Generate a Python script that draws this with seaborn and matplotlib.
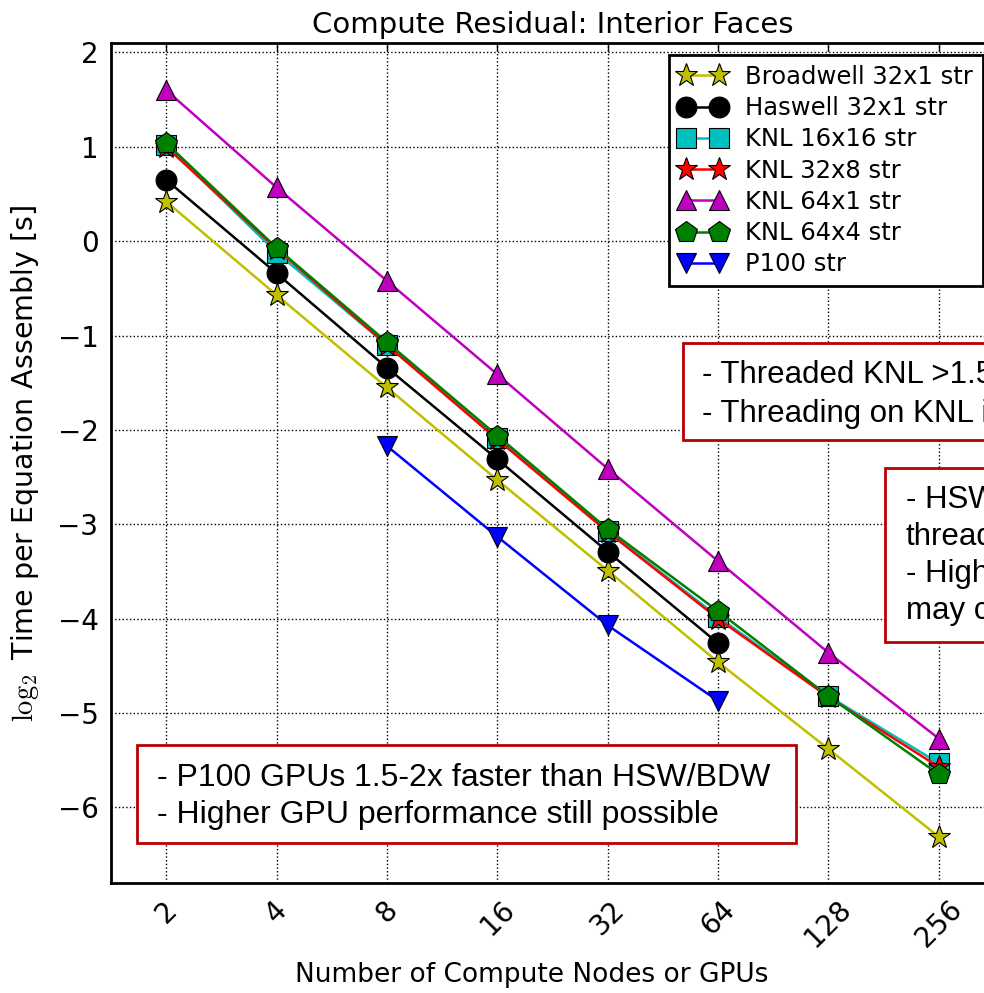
import matplotlib
matplotlib.use("Agg")
import matplotlib.pyplot as plt
import matplotlib.patches as mpatches
import seaborn as sns

# nodes / GPUs on the x axis
NODES = [2, 4, 8, 16, 32, 64, 128, 256]
GPU_NODES = [8, 16, 32, 64]
X_TICK_LABELS = ["2", "4", "8", "16", "32", "64", "128", "256"]

# log2 time per equation assembly [s]
BROADWELL_32X1 = [0.42, -0.57, -1.55, -2.53, -3.49, -4.46, -5.38, -6.31]
HASWELL_32X1 = [0.65, -0.34, -1.34, -2.31, -3.29, -4.26]
KNL_16X16 = [1.02, -0.12, -1.10, -2.09, -3.07, -3.98, -4.82, -5.53]
KNL_32X8 = [1.00, -0.08, -1.10, -2.10, -3.08, -4.00, -4.83, -5.57]
KNL_64X1 = [1.60, 0.57, -0.42, -1.41, -2.41, -3.39, -4.36, -5.27]
KNL_64X4 = [1.04, -0.07, -1.07, -2.06, -3.05, -3.92, -4.82, -5.65]
P100 = [-2.17, -3.13, -4.07, -4.87]

SERIES = [
    ("Broadwell 32x1 str", NODES, BROADWELL_32X1, (0.75, 0.75, 0), "*", 17),
    ("Haswell 32x1 str", NODES[:6], HASWELL_32X1, "k", "o", 15),
    ("KNL 16x16 str", NODES, KNL_16X16, (0, 0.75, 0.75), "s", 14),
    ("KNL 32x8 str", NODES, KNL_32X8, "r", "*", 17),
    ("KNL 64x1 str", NODES, KNL_64X1, (0.75, 0, 0.75), "^", 15),
    ("KNL 64x4 str", NODES, KNL_64X4, (0, 0.5, 0), "p", 16),
    ("P100 str", GPU_NODES, P100, "b", "v", 15),
]

NOTE_KNL = ["- Threaded KNL >1.5x faster than flat MPI", "- Threading on KNL is essential"]
NOTE_HSW = ["- HSW/BDW gain little from", "threading", "- Higher thread counts", "may cause contention"]
NOTE_GPU = ["- P100 GPUs 1.5-2x faster than HSW/BDW", "- Higher GPU performance still possible"]

W, H = 984, 993
sns.set_style("white")
plt.rcParams["font.family"] = ["DejaVu Sans"]
plt.rcParams["mathtext.fontset"] = "cm"
for key in ["text.color", "axes.labelcolor", "xtick.color", "ytick.color"]:
    plt.rcParams[key] = "black"

fig = plt.figure(figsize=(W / 100, H / 100), dpi=100)
fig.patch.set_facecolor("white")


def fx(px):
    return px / W


def fy(py):
    return 1 - py / H


ax = fig.add_axes([fx(111), fy(883), fx(994) - fx(111), fy(43) - fy(883)])

for name, xs, ys, color, marker, ms in SERIES:
    sns.lineplot(x=xs, y=ys, ax=ax, color=color, marker=marker, markersize=ms,
                 markeredgecolor="k", markeredgewidth=0.8, linewidth=1.8,
                 label=name, errorbar=None, sort=False)

ax.set_xscale("log", base=2)
ax.set_xlim(2 ** 0.5, 2 ** 8.5)
ax.set_ylim(-6.8, 2.1)
ax.set_xticks(NODES)
ax.set_xticklabels(X_TICK_LABELS, rotation=45, fontsize=20)
ax.minorticks_off()
ax.set_yticks(range(-6, 3))
ax.tick_params(axis="y", labelsize=20)
ax.tick_params(direction="in", length=6, width=1, top=True, right=True, pad=9,
               colors="black")
ax.grid(True, color="k", linestyle=":", linewidth=1)
for sp in ax.spines.values():
    sp.set_linewidth(2)
    sp.set_color("k")

ax.set_title("Compute Residual: Interior Faces", fontsize=21, pad=7, color="black")
ax.set_xlabel("Number of Compute Nodes or GPUs", fontsize=19, color="black")
ax.xaxis.set_label_coords(0.476, -0.094)
ax.set_ylabel(r"$\log_2$ Time per Equation Assembly [s]", fontsize=20.5, labelpad=12,
              color="black")

leg = ax.legend(loc="upper right", bbox_to_anchor=(fx(983), fy(55)),
                bbox_transform=fig.transFigure, borderaxespad=0, numpoints=2,
                fontsize=17.5, fancybox=False, framealpha=1, edgecolor="k",
                handlelength=1.96, handletextpad=0.8, labelspacing=0.3, borderpad=0.4)
leg.get_frame().set_linewidth(2)
for t in leg.get_texts():
    t.set_color("black")

# annotation boxes (they run off the right edge of the figure)
box_col = (0.72, 0.0, 0.0)
for (x0, y0, x1, y1) in [(683, 343, 1300, 440), (885, 468, 1300, 642), (137, 745, 796, 843)]:
    fig.patches.append(mpatches.Rectangle((fx(x0), fy(y1)), fx(x1) - fx(x0), fy(y0) - fy(y1),
                                          transform=fig.transFigure, facecolor="white",
                                          edgecolor=box_col, linewidth=2, zorder=5))

note_font = ["Liberation Sans", "DejaVu Sans"]
for lines, x0, y0, step, size in [(NOTE_KNL, 702, 383, 39, 22.5),
                                  (NOTE_HSW, 906, 508, 37, 22.5),
                                  (NOTE_GPU, 157, 786, 37, 23)]:
    for i, line in enumerate(lines):
        fig.text(fx(x0), fy(y0 + i * step), line, fontsize=size, family=note_font,
                 va="baseline", ha="left", zorder=6, color="black")

fig.savefig("out.png", dpi=100, facecolor="white")
